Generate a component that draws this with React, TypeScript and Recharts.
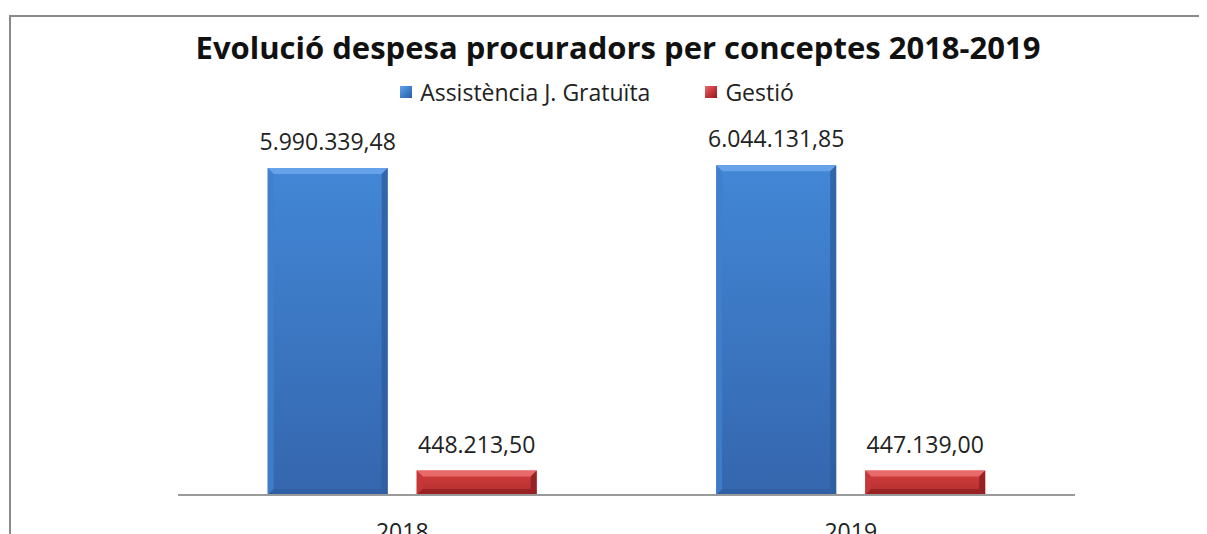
import React from 'react';
import { BarChart, Bar, XAxis, YAxis, Legend, LabelList } from 'recharts';

const years = ['2018', '2019'];
const assistencia = [5990339.48, 6044131.85];
const gestio = [448213.5, 447139.0];
const seriesNames = ['Assistència J. Gratuïta', 'Gestió'];

const data = years.map((year, i) => ({
  year,
  assistencia: assistencia[i],
  gestio: gestio[i],
}));

const FONT = '"Open Sans", "Liberation Sans", sans-serif';

// colors per series: main, light (top bevel), dark (sides/bottom)
const palette: Record<string, { main: string; light: string; dark: string; id: string }> = {
  assistencia: { main: '#3F7FCD', light: '#66A2EA', dark: '#2D5E9E', id: 'gradBlue' },
  gestio: { main: '#C8373A', light: '#E86A6B', dark: '#8C1D1E', id: 'gradRed' },
};

// format like 5.990.339,48
function formatCa(v: number): string {
  const [int, dec] = v.toFixed(2).split('.');
  return int.replace(/\B(?=(\d{3})+(?!\d))/g, '.') + ',' + dec;
}

const BevelBar = (props: any) => {
  const { x, y, width, height, dataKeyName } = props;
  const c = palette[dataKeyName];
  if (!c || height <= 0) return null;
  const b = Math.min(6, height / 3, width / 3);
  return (
    <g>
      <rect x={x} y={y} width={width} height={height} fill={`url(#${c.id})`} />
      {/* top bevel */}
      <polygon
        points={`${x},${y} ${x + width},${y} ${x + width - b},${y + b} ${x + b},${y + b}`}
        fill={c.light}
      />
      {/* left bevel */}
      <polygon
        points={`${x},${y} ${x + b},${y + b} ${x + b},${y + height - b} ${x},${y + height}`}
        fill={c.main}
        opacity={0.85}
      />
      {/* right bevel */}
      <polygon
        points={`${x + width},${y} ${x + width},${y + height} ${x + width - b},${y + height - b} ${x + width - b},${y + b}`}
        fill={c.dark}
        opacity={0.8}
      />
      {/* bottom bevel */}
      <polygon
        points={`${x},${y + height} ${x + b},${y + height - b} ${x + width - b},${y + height - b} ${x + width},${y + height}`}
        fill={c.dark}
        opacity={0.7}
      />
    </g>
  );
};

const LegendContent = () => (
  <div
    style={{
      display: 'flex',
      justifyContent: 'center',
      alignItems: 'center',
      fontFamily: FONT,
      fontSize: 23,
      color: '#222',
      gap: 55,
      paddingRight: 24,
    }}
  >
    {seriesNames.map((name, i) => {
      const c = palette[i === 0 ? 'assistencia' : 'gestio'];
      return (
        <div key={name} style={{ display: 'flex', alignItems: 'center' }}>
          <span
            style={{
              display: 'inline-block',
              width: 12,
              height: 12,
              marginRight: 8,
              background: `linear-gradient(135deg, ${c.light}, ${c.main} 50%, ${c.dark})`,
            }}
          />
          <span>{name}</span>
        </div>
      );
    })}
  </div>
);

const YearTick = (props: any) => {
  const { x, y, payload } = props;
  return (
    <text x={x} y={y + 37} textAnchor="middle" fontFamily={FONT} fontSize={23} fill="#222">
      {payload.value}
    </text>
  );
};

export default function App() {
  return (
    <div
      style={{
        position: 'relative',
        marginLeft: 1,
        marginTop: 7,
        width: 1198,
        height: 519,
        borderTop: '2px solid #8a8a8a',
        borderLeft: '2px solid #8a8a8a',
        boxSizing: 'border-box',
        overflow: 'hidden',
        background: '#fff',
      }}
    >
      <div
        style={{
          position: 'absolute',
          left: 7,
          width: 1200,
          top: 11,
          textAlign: 'center',
          fontFamily: FONT,
          fontWeight: 700,
          fontSize: 31,
          lineHeight: '38px',
          color: '#111',
        }}
      >
        Evolució despesa procuradors per conceptes 2018-2019
      </div>
      <BarChart
        width={1196}
        height={517}
        data={data}
        margin={{ top: 96, right: 132, left: 167, bottom: 9 }}
        barCategoryGap="20%"
        barGap={29}
      >
        <defs>
          <linearGradient id="gradBlue" x1="0" y1="0" x2="0" y2="1">
            <stop offset="0%" stopColor="#4287D6" />
            <stop offset="100%" stopColor="#3566AE" />
          </linearGradient>
          <linearGradient id="gradRed" x1="0" y1="0" x2="0" y2="1">
            <stop offset="0%" stopColor="#D4403F" />
            <stop offset="100%" stopColor="#B02C2C" />
          </linearGradient>
        </defs>
        <XAxis
          dataKey="year"
          axisLine={{ stroke: '#9a9a9a', strokeWidth: 2 }}
          tickLine={false}
          tick={<YearTick />}
          height={30}
          interval={0}
        />
        <YAxis hide domain={[0, 7000000]} />
        <Legend
          verticalAlign="middle"
          align="center"
          layout="horizontal"
          content={<LegendContent />}
          wrapperStyle={{ top: 59, left: 0, width: 1196 }}
        />
        <Bar
          dataKey="assistencia"
          name={seriesNames[0]}
          fill={palette.assistencia.main}
          shape={(p: any) => <BevelBar {...p} dataKeyName="assistencia" />}
          isAnimationActive={false}
        >
          <LabelList
            dataKey="assistencia"
            position="top"
            offset={18}
            formatter={(v: any) => formatCa(Number(v))}
            style={{ fontFamily: FONT, fontSize: 23, fill: '#222' }}
          />
        </Bar>
        <Bar
          dataKey="gestio"
          name={seriesNames[1]}
          fill={palette.gestio.main}
          shape={(p: any) => <BevelBar {...p} dataKeyName="gestio" />}
          isAnimationActive={false}
        >
          <LabelList
            dataKey="gestio"
            position="top"
            offset={18}
            formatter={(v: any) => formatCa(Number(v))}
            style={{ fontFamily: FONT, fontSize: 23, fill: '#222' }}
          />
        </Bar>
      </BarChart>
    </div>
  );
}
